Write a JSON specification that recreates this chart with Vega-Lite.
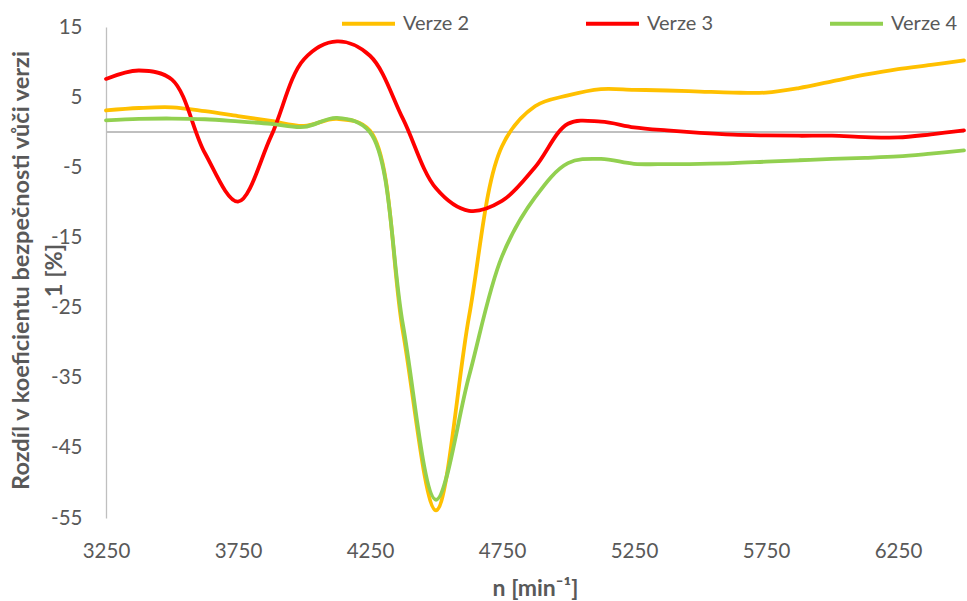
{
  "$schema": "https://vega.github.io/schema/vega-lite/v6.json",
  "width": 858,
  "height": 491,
  "autosize": {"type": "none"},
  "padding": {"left": 106, "top": 27, "right": 3, "bottom": 83},
  "background": "white",
  "config": {
    "view": {"stroke": null},
    "font": "Lato",
    "axis": {"grid": false, "labelFont": "Lato", "titleFont": "Lato", "labelColor": "#595959", "titleColor": "#595959"},
    "legend": {"labelFont": "Lato"}
  },
  "data": {
    "values": [
      {"n": 3250, "verze": "Verze 2", "value": 3.1}, {"n": 3250, "verze": "Verze 3", "value": 7.6}, {"n": 3250, "verze": "Verze 4", "value": 1.7},
      {"n": 3375, "verze": "Verze 2", "value": 3.45}, {"n": 3375, "verze": "Verze 3", "value": 8.8}, {"n": 3375, "verze": "Verze 4", "value": 1.9},
      {"n": 3500, "verze": "Verze 2", "value": 3.55}, {"n": 3500, "verze": "Verze 3", "value": 7.5}, {"n": 3500, "verze": "Verze 4", "value": 1.95},
      {"n": 3625, "verze": "Verze 2", "value": 3.0}, {"n": 3625, "verze": "Verze 3", "value": -3.0}, {"n": 3625, "verze": "Verze 4", "value": 1.85},
      {"n": 3750, "verze": "Verze 2", "value": 2.3}, {"n": 3750, "verze": "Verze 3", "value": -9.9}, {"n": 3750, "verze": "Verze 4", "value": 1.55},
      {"n": 3875, "verze": "Verze 2", "value": 1.6}, {"n": 3875, "verze": "Verze 3", "value": -0.6}, {"n": 3875, "verze": "Verze 4", "value": 1.2},
      {"n": 4000, "verze": "Verze 2", "value": 0.9}, {"n": 4000, "verze": "Verze 3", "value": 10.4}, {"n": 4000, "verze": "Verze 4", "value": 0.75},
      {"n": 4125, "verze": "Verze 2", "value": 1.9}, {"n": 4125, "verze": "Verze 3", "value": 12.95}, {"n": 4125, "verze": "Verze 4", "value": 2.05},
      {"n": 4250, "verze": "Verze 2", "value": 0.2}, {"n": 4250, "verze": "Verze 3", "value": 10.9}, {"n": 4250, "verze": "Verze 4", "value": 0.0},
      {"n": 4375, "verze": "Verze 2", "value": -28.5}, {"n": 4375, "verze": "Verze 3", "value": 1.9}, {"n": 4375, "verze": "Verze 4", "value": -27.5},
      {"n": 4500, "verze": "Verze 2", "value": -53.9}, {"n": 4500, "verze": "Verze 3", "value": -8.0}, {"n": 4500, "verze": "Verze 4", "value": -52.4},
      {"n": 4625, "verze": "Verze 2", "value": -26.3}, {"n": 4625, "verze": "Verze 3", "value": -11.2}, {"n": 4625, "verze": "Verze 4", "value": -34.8},
      {"n": 4750, "verze": "Verze 2", "value": -2.0}, {"n": 4750, "verze": "Verze 3", "value": -9.8}, {"n": 4750, "verze": "Verze 4", "value": -17.7},
      {"n": 4875, "verze": "Verze 2", "value": 3.7}, {"n": 4875, "verze": "Verze 3", "value": -5.0}, {"n": 4875, "verze": "Verze 4", "value": -9.3},
      {"n": 5000, "verze": "Verze 2", "value": 5.25}, {"n": 5000, "verze": "Verze 3", "value": 1.2}, {"n": 5000, "verze": "Verze 4", "value": -4.4},
      {"n": 5125, "verze": "Verze 2", "value": 6.15}, {"n": 5125, "verze": "Verze 3", "value": 1.5}, {"n": 5125, "verze": "Verze 4", "value": -3.8},
      {"n": 5250, "verze": "Verze 2", "value": 6.05}, {"n": 5250, "verze": "Verze 3", "value": 0.7}, {"n": 5250, "verze": "Verze 4", "value": -4.5},
      {"n": 5375, "verze": "Verze 2", "value": 5.95}, {"n": 5375, "verze": "Verze 3", "value": 0.25}, {"n": 5375, "verze": "Verze 4", "value": -4.55},
      {"n": 5500, "verze": "Verze 2", "value": 5.8}, {"n": 5500, "verze": "Verze 3", "value": -0.1}, {"n": 5500, "verze": "Verze 4", "value": -4.5},
      {"n": 5625, "verze": "Verze 2", "value": 5.65}, {"n": 5625, "verze": "Verze 3", "value": -0.35}, {"n": 5625, "verze": "Verze 4", "value": -4.4},
      {"n": 5750, "verze": "Verze 2", "value": 5.65}, {"n": 5750, "verze": "Verze 3", "value": -0.45}, {"n": 5750, "verze": "Verze 4", "value": -4.2},
      {"n": 5875, "verze": "Verze 2", "value": 6.3}, {"n": 5875, "verze": "Verze 3", "value": -0.5}, {"n": 5875, "verze": "Verze 4", "value": -4.0},
      {"n": 6000, "verze": "Verze 2", "value": 7.25}, {"n": 6000, "verze": "Verze 3", "value": -0.5}, {"n": 6000, "verze": "Verze 4", "value": -3.8},
      {"n": 6125, "verze": "Verze 2", "value": 8.2}, {"n": 6125, "verze": "Verze 3", "value": -0.7}, {"n": 6125, "verze": "Verze 4", "value": -3.65},
      {"n": 6250, "verze": "Verze 2", "value": 9.0}, {"n": 6250, "verze": "Verze 3", "value": -0.75}, {"n": 6250, "verze": "Verze 4", "value": -3.45},
      {"n": 6375, "verze": "Verze 2", "value": 9.6}, {"n": 6375, "verze": "Verze 3", "value": -0.3}, {"n": 6375, "verze": "Verze 4", "value": -3.05},
      {"n": 6500, "verze": "Verze 2", "value": 10.25}, {"n": 6500, "verze": "Verze 3", "value": 0.25}, {"n": 6500, "verze": "Verze 4", "value": -2.6}
    ]
  },
  "layer": [
    {
      "mark": {"type": "rule", "color": "#BFBFBF", "strokeWidth": 1.3},
      "encoding": {"y": {"datum": 0, "type": "quantitative", "scale": {"domain": [-55, 15], "nice": false}}}
    },
    {
      "mark": {"type": "line", "interpolate": "catmull-rom", "strokeWidth": 3.8, "strokeCap": "round", "strokeJoin": "round"},
      "encoding": {
        "x": {
          "field": "n", "type": "quantitative",
          "scale": {"domain": [3250, 6500], "nice": false, "zero": false},
          "axis": {
            "values": [3250, 3750, 4250, 4750, 5250, 5750, 6250],
            "format": "d",
            "domain": false, "ticks": false, "tickSize": 0,
            "labelFontSize": 20.5, "labelPadding": 23, "labelFlush": false,
            "title": "n [min⁻¹]", "titleFontSize": 23, "titleFontWeight": "bold",
            "titleAnchor": "middle", "titleBaseline": "alphabetic", "titleY": 77
          }
        },
        "y": {
          "field": "value", "type": "quantitative",
          "scale": {"domain": [-55, 15], "nice": false, "zero": false},
          "axis": {
            "values": [-55, -45, -35, -25, -15, -5, 5, 15],
            "labelExpr": "'' + datum.value",
            "domain": true, "domainColor": "#BFBFBF", "domainWidth": 1.3,
            "ticks": false, "tickSize": 0,
            "labelFontSize": 20.5, "labelPadding": 24,
            "title": ["Rozdíl v koeficientu bezpečnosti vůči verzi", "1 [%]"],
            "titleFontSize": 23.5, "titleFontWeight": "bold", "titleLineHeight": 33.4,
            "titleAngle": -90, "titleAlign": "center", "titleBaseline": "alphabetic",
            "titleX": -77.7, "titleY": 243
          }
        },
        "color": {
          "field": "verze", "type": "nominal",
          "scale": {"domain": ["Verze 2", "Verze 3", "Verze 4"], "range": ["#FFC000", "#FF0000", "#92D050"]},
          "legend": {
            "title": null, "orient": "none", "legendX": 234, "legendY": -32,
            "direction": "horizontal", "columns": 3, "columnPadding": 108, "padding": 0,
            "symbolType": "stroke", "symbolSize": 2809, "symbolStrokeWidth": 4,
            "labelFontSize": 20, "labelColor": "#595959", "labelOffset": 6, "labelLimit": 200
          }
        }
      }
    }
  ]
}
